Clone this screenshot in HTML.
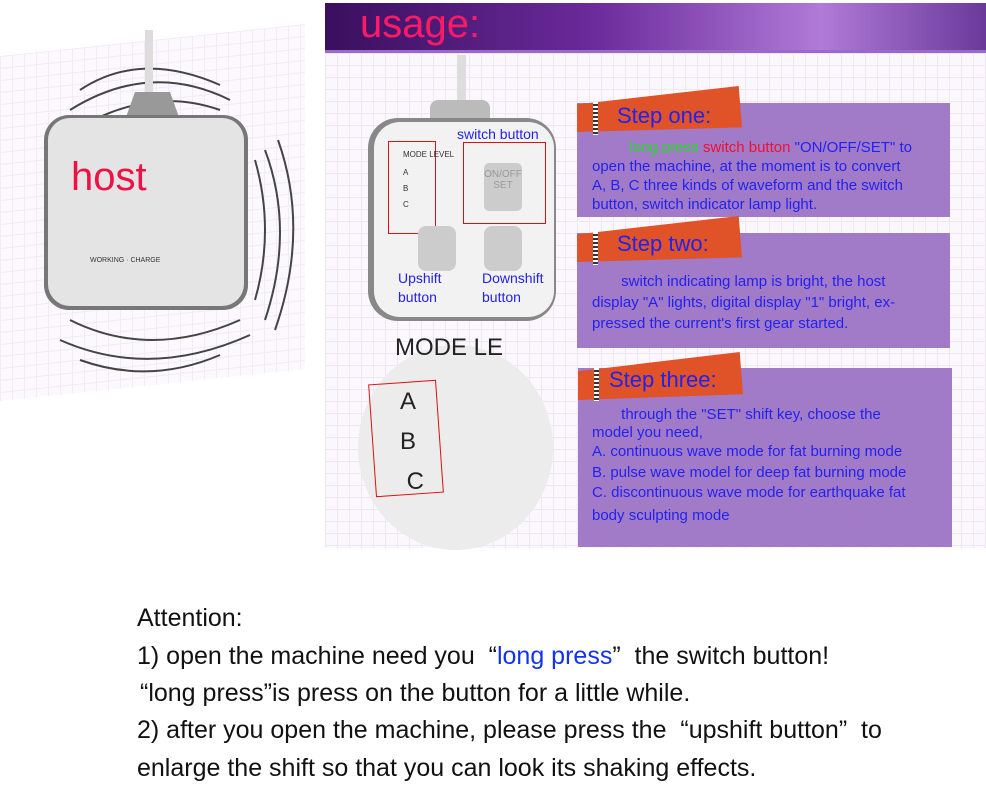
<!DOCTYPE html>
<html><head><meta charset="utf-8"><style>
*{margin:0;padding:0;box-sizing:border-box}
body{width:986px;height:800px;background:#fff;position:relative;overflow:hidden;font-family:"Liberation Sans",sans-serif}
.a{position:absolute}
.grid{background-color:#fbf8fd;background-image:linear-gradient(#efe6f3 1px,transparent 1px),linear-gradient(90deg,#efe6f3 1px,transparent 1px);background-size:12px 12px}
.box{background:#a27bc8;color:#2222ee;font-size:15px;line-height:19px}
.ban{background:#e05228}
.st{color:#2222ee;font-size:22px;white-space:nowrap}
.dots{width:5px;background:repeating-linear-gradient(#fff 0 2px,#333 2px 4px)}
.t{white-space:nowrap}
.bt{font-size:25px;color:#111;white-space:nowrap}
</style></head><body>
<!-- left host area -->
<div class="a grid" style="left:0;top:40px;width:305px;height:345px;transform:skewY(-6deg);opacity:.8"></div>
<svg class="a" style="left:0;top:30px" width="330" height="370">
<g fill="none" stroke="#444" stroke-width="2">
<path d="M80 60 Q140 20 220 55"/><path d="M70 80 Q150 30 230 70"/><path d="M75 100 Q150 55 220 80"/>
<path d="M265 120 Q295 200 265 290"/><path d="M278 110 Q310 200 275 300"/><path d="M255 130 Q275 200 255 270"/>
<path d="M70 290 Q150 330 240 290"/><path d="M60 310 Q150 350 250 305"/><path d="M80 330 Q150 355 220 325"/>
</g>
<rect x="145" y="0" width="8" height="65" fill="#ddd"/>
<path d="M125 90 L135 62 L170 62 L180 90 Z" fill="#999"/>
<rect x="44" y="85" width="204" height="195" rx="25" fill="#777"/>
<rect x="48" y="88" width="196" height="188" rx="22" fill="#e4e4e4"/>
<text x="90" y="232" font-size="7" fill="#333" font-family="Liberation Sans">WORKING · CHARGE</text>
</svg>
<div class="a t" style="left:71px;top:155px;font-size:40px;color:#ee1144">host</div>

<!-- header -->
<div class="a" style="left:325px;top:3px;width:661px;height:49px;background:linear-gradient(90deg,#3a0f5e 0%,#6a2a9a 40%,#b07ad8 75%,#6a3a9a 100%)"></div>
<div class="a" style="left:325px;top:50px;width:661px;height:3px;background:#9a6acb"></div>
<div class="a t" style="left:360px;top:2px;font-size:40px;color:#ff1a66">usage:</div>
<div class="a grid" style="left:325px;top:53px;width:661px;height:495px"></div>

<!-- device -->
<div class="a" style="left:457px;top:55px;width:9px;height:70px;background:#ddd"></div>
<div class="a" style="left:430px;top:100px;width:60px;height:30px;background:#bbb;border-radius:8px 8px 0 0"></div>
<div class="a" style="left:368px;top:118px;width:188px;height:203px;background:#888;border-radius:30px"></div>
<div class="a" style="left:374px;top:122px;width:180px;height:195px;background:#f2f2f2;border-radius:26px"></div>
<div class="a" style="left:388px;top:141px;width:48px;height:93px;border:1.5px solid #d11"></div>
<div class="a" style="left:463px;top:142px;width:83px;height:82px;border:1.5px solid #d11"></div>
<div class="a t" style="left:403px;top:150px;font-size:8px;color:#333">MODE LEVEL</div>
<div class="a t" style="left:403px;top:165px;font-size:8px;color:#333;line-height:16px">A<br>B<br>C</div>
<div class="a" style="left:484px;top:163px;width:38px;height:48px;background:#ccc;border-radius:5px;color:#999;font-size:10px;text-align:center;padding-top:6px">ON/OFF<br>SET</div>
<div class="a" style="left:418px;top:226px;width:38px;height:45px;background:#ccc;border-radius:8px"></div>
<div class="a" style="left:484px;top:226px;width:38px;height:45px;background:#ccc;border-radius:8px"></div>
<div class="a t" style="left:457px;top:126px;font-size:14px;color:#2222ee">switch button</div>
<div class="a t" style="left:398px;top:269px;font-size:14px;color:#2222ee;line-height:19px">Upshift<br>button</div>
<div class="a t" style="left:482px;top:269px;font-size:14px;color:#2222ee;line-height:19px">Downshift<br>button</div>

<!-- zoom circle -->
<div class="a" style="left:358px;top:345px;width:195px;height:205px;border-radius:50%;background:#ececec"></div>
<div class="a t" style="left:395px;top:338px;font-size:24px;color:#222;height:20px;overflow:hidden;line-height:20px;padding-top:0">MODE LE</div>
<div class="a" style="left:372px;top:382px;width:68px;height:113px;border:1.5px solid #d11;transform:rotate(-4deg)"></div>
<div class="a t" style="left:400px;top:382px;font-size:24px;color:#222;line-height:40px">A<br>B<br>&nbsp;C</div>

<!-- step one -->
<div class="a box" style="left:577px;top:103px;width:373px;height:114px;padding:35px 0 0 15px">
<div class="t">&nbsp;&nbsp;&nbsp;&nbsp;&nbsp;&nbsp;&nbsp;&nbsp;&nbsp;<span style="color:#22dd22">long press</span> <span style="color:#ee1133">switch button</span> "ON/OFF/SET" to</div>
<div class="t">open the machine, at the moment is to convert</div>
<div class="t">A, B, C three kinds of waveform and the switch</div>
<div class="t">button, switch indicator lamp light.</div></div>
<div class="a ban" style="left:577px;top:86px;width:165px;height:46px;clip-path:polygon(0 40%,98% 0,100% 90%,0 100%)"></div>
<div class="a dots" style="left:593px;top:102px;height:33px"></div>
<div class="a st" style="left:617px;top:103px">Step one:</div>

<!-- step two -->
<div class="a box" style="left:577px;top:233px;width:373px;height:115px;padding:38px 0 0 15px;line-height:21px">
<div class="t">&nbsp;&nbsp;&nbsp;&nbsp;&nbsp;&nbsp;&nbsp;switch indicating lamp is bright, the host</div>
<div class="t">display "A" lights, digital display "1" bright, ex-</div>
<div class="t">pressed the current's first gear started.</div></div>
<div class="a ban" style="left:577px;top:216px;width:165px;height:46px;clip-path:polygon(0 40%,98% 0,100% 90%,0 100%)"></div>
<div class="a dots" style="left:593px;top:232px;height:33px"></div>
<div class="a st" style="left:617px;top:231px">Step two:</div>

<!-- step three -->
<div class="a box" style="left:578px;top:368px;width:374px;height:179px;padding:38px 0 0 14px;line-height:20.5px">
<div class="t" style="line-height:18px">&nbsp;&nbsp;&nbsp;&nbsp;&nbsp;&nbsp;&nbsp;through the "SET" shift key, choose the</div>
<div class="t" style="line-height:18px">model you need,</div>
<div class="t">A. continuous wave mode for fat burning mode</div>
<div class="t">B. pulse wave model for deep fat burning mode</div>
<div class="t">C. discontinuous wave mode for earthquake fat</div>
<div class="t" style="line-height:23px">body sculpting mode</div></div>
<div class="a ban" style="left:578px;top:352px;width:165px;height:48px;clip-path:polygon(0 40%,98% 0,100% 88%,0 100%)"></div>
<div class="a dots" style="left:594px;top:368px;height:33px"></div>
<div class="a st" style="left:609px;top:367px">Step three:</div>

<!-- attention -->
<div class="a bt" style="left:137px;top:604px">Attention:</div>
<div class="a bt" style="left:137px;top:642px">1) open the machine need you &nbsp;“<span style="color:#1133ee">long press</span>” &nbsp;the switch button!</div>
<div class="a bt" style="left:140px;top:679px">“long press”is press on the button for a little while.</div>
<div class="a bt" style="left:137px;top:716px">2) after you open the machine, please press the &nbsp;“upshift button” &nbsp;to</div>
<div class="a bt" style="left:137px;top:754px">enlarge the shift so that you can look its shaking effects.</div>
</body></html>
